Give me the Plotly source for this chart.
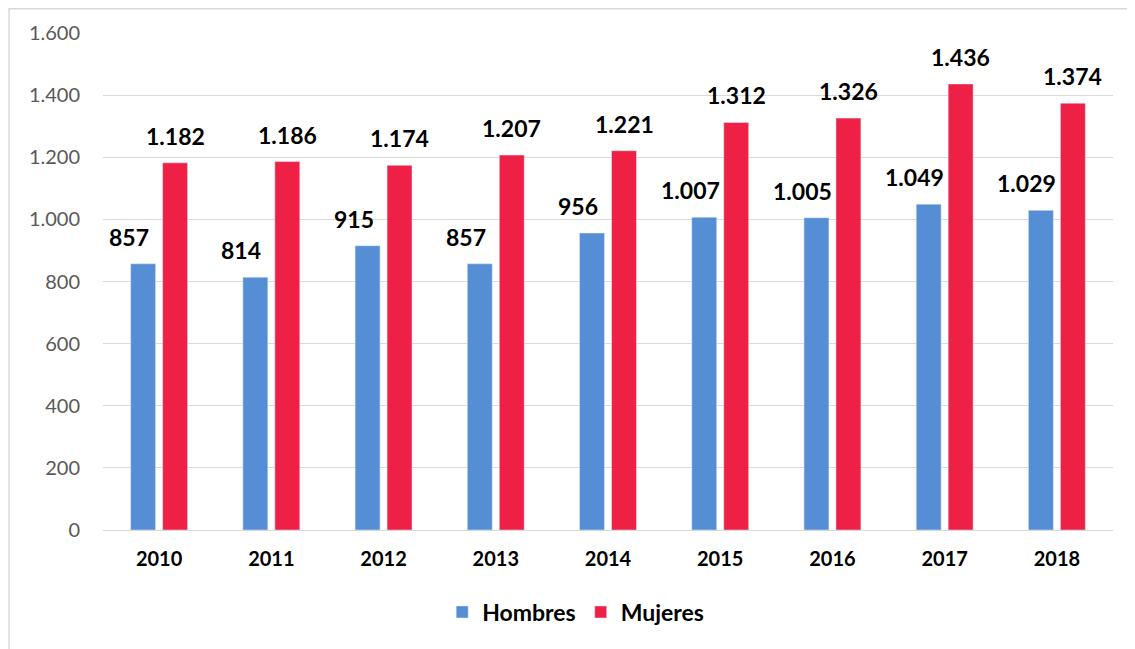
import plotly.graph_objects as go

years = ["2010", "2011", "2012", "2013", "2014", "2015", "2016", "2017", "2018"]
hombres = [857, 814, 915, 857, 956, 1007, 1005, 1049, 1029]
mujeres = [1182, 1186, 1174, 1207, 1221, 1312, 1326, 1436, 1374]
y_ticks = [0, 200, 400, 600, 800, 1000, 1200, 1400, 1600]

BLUE = "#558ED5"
RED = "#EE2046"
FONT = "Lato"


def fmt(v):
    return f"{v:,}".replace(",", ".")


fig = go.Figure()
fig.add_trace(go.Bar(name="Hombres", x=years, y=hombres, marker_color=BLUE))
fig.add_trace(go.Bar(name="Mujeres", x=years, y=mujeres, marker_color=RED))

ann = []
for i, (h, m) in enumerate(zip(hombres, mujeres)):
    ann.append(dict(x=i, y=h, text=fmt(h), showarrow=False, xshift=-30, yshift=27,
                    yanchor="middle", font=dict(family=FONT, size=23, color="black", weight="bold")))
    ann.append(dict(x=i, y=m, text=fmt(m), showarrow=False, xshift=16, yshift=27,
                    yanchor="middle", font=dict(family=FONT, size=23, color="black", weight="bold")))

fig.update_layout(
    width=1135, height=649,
    margin=dict(l=95, r=30, t=25, b=127),
    paper_bgcolor="white", plot_bgcolor="white",
    barmode="group", bargap=0.43, bargroupgap=0.22,
    font=dict(family=FONT),
    annotations=ann,
    showlegend=True,
    legend=dict(orientation="h", x=0.468, xanchor="center", y=-0.165, yanchor="middle",
                font=dict(family=FONT, size=23, color="black", weight="bold"),
                itemwidth=30, traceorder="normal"),
    shapes=[dict(type="rect", xref="paper", yref="paper", x0=-0.093, x1=1.05,
                 y0=-0.3, y1=1.049, line=dict(color="#D9D9D9", width=1.5),
                 fillcolor="rgba(0,0,0,0)", layer="below")],
)
fig.update_xaxes(type="category", range=[-0.5, len(years) - 0.5], showgrid=False,
                 showline=True, linecolor="#D9D9D9", linewidth=1,
                 tickfont=dict(family=FONT, size=20, color="black", weight="bold"),
                 ticks="", ticklabelstandoff=11)
fig.update_yaxes(range=[0, 1600], tickvals=y_ticks, ticktext=[fmt(v) for v in y_ticks],
                 showgrid=True, gridcolor="#D9D9D9", gridwidth=1, zeroline=False,
                 tickfont=dict(family=FONT, size=20, color="#595959"),
                 ticks="", ticklabelstandoff=22)

fig.write_html("out.html")
